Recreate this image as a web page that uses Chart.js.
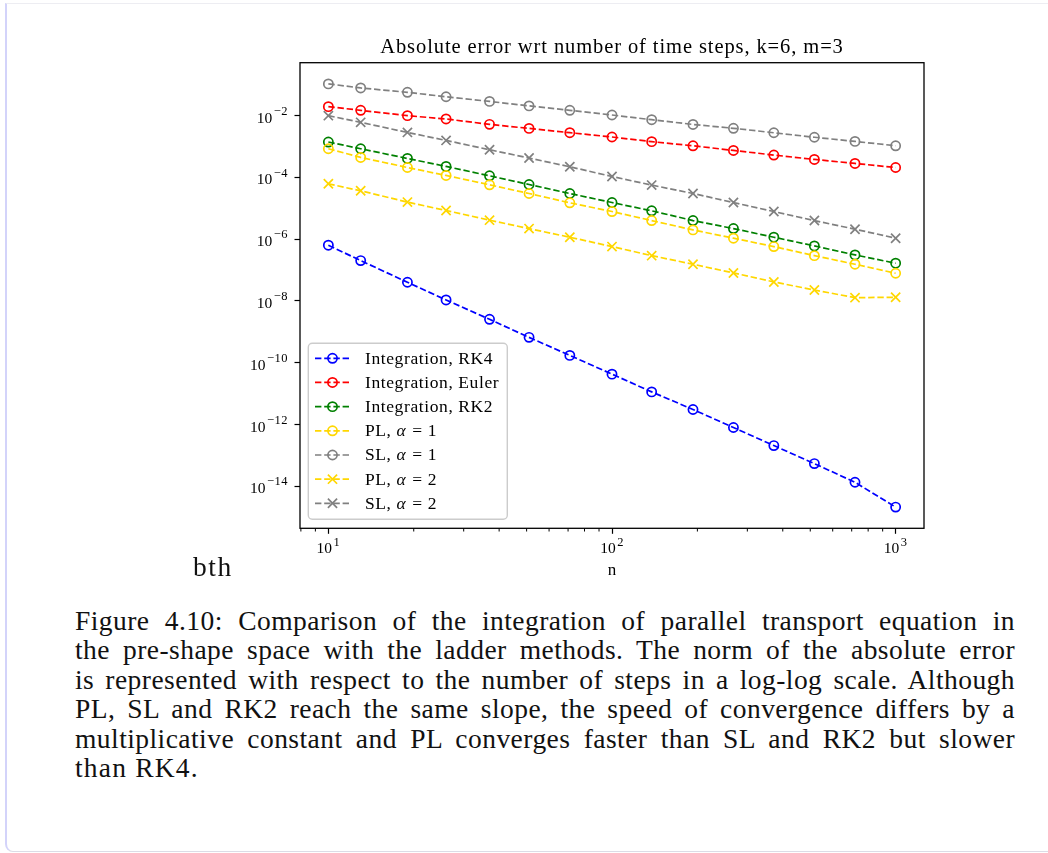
<!DOCTYPE html>
<html>
<head>
<meta charset="utf-8">
<title>Absolute error wrt number of time steps</title>
<script src="https://cdn.jsdelivr.net/npm/chart.js@4.4.1/dist/chart.umd.min.js"></script>
<style>
  html, body { margin: 0; padding: 0; background: #fff; }
  body { width: 1048px; height: 853px; position: relative; overflow: hidden;
         font-family: "Liberation Serif", serif; color: #111; }
  #frame { position: absolute; left: 5px; top: 3px; width: 1100px; height: 847px;
           border-left: 2px solid #d3d3fa; border-top: 1px solid #ededf2;
           border-bottom: 1px solid #dcdce6; border-bottom-left-radius: 8px; }
  #plot { position: absolute; left: 200px; top: 20px; }
  .tex { position: absolute; font-size: 27.5px; line-height: 29.4px; letter-spacing: 0.45px; }
  #bth { left: 193px; top: 552px; letter-spacing: 1.6px; }
  #caption { left: 75px; top: 606px; width: 940px; }
  #caption div { text-align: justify; text-align-last: justify; }
  #caption div.last { text-align-last: left; letter-spacing: 1.2px; }
</style>
</head>
<body>
<div id="frame"></div>
<canvas id="plot" width="760" height="570"></canvas>
<div class="tex" id="bth">bth</div>
<div class="tex" id="caption">
  <div>Figure 4.10: Comparison of the integration of parallel transport equation in</div>
  <div>the pre-shape space with the ladder methods. The norm of the absolute error</div>
  <div>is represented with respect to the number of steps in a log-log scale. Although</div>
  <div>PL, SL and RK2 reach the same slope, the speed of convergence differs by a</div>
  <div>multiplicative constant and PL converges faster than SL and RK2 but slower</div>
  <div class="last">than RK4.</div>
</div>
<script>
// number of time steps
const nSteps = [10, 13, 19, 26, 37, 51, 71, 100, 138, 193, 268, 372, 517, 719, 1000];

// absolute error
const errRK4   = [6.4e-7, 2.03e-7, 4.04e-8, 1.08e-8, 2.55e-9, 6.64e-10, 1.73e-10, 4.28e-11,
                  1.14e-11, 3.07e-12, 8.0e-13, 2.08e-13, 5.43e-14, 1.35e-14, 2.12e-15];
const errEuler = [1.96e-2, 1.49e-2, 1.0e-2, 7.82e-3, 5.23e-3, 3.87e-3, 2.81e-3, 2.04e-3,
                  1.44e-3, 1.06e-3, 7.48e-4, 5.31e-4, 3.83e-4, 2.84e-4, 2.10e-4];
const errRK2   = [1.40e-3, 8.5e-4, 4.12e-4, 2.27e-4, 1.13e-4, 5.9e-5, 3.02e-5, 1.54e-5,
                  8.3e-6, 4.02e-6, 2.21e-6, 1.16e-6, 6.07e-7, 3.10e-7, 1.67e-7];
const errPL1   = [8.5e-4, 4.44e-4, 2.10e-4, 1.16e-4, 5.78e-5, 3.02e-5, 1.51e-5, 7.87e-6,
                  4.02e-6, 2.0e-6, 1.08e-6, 5.77e-7, 2.94e-7, 1.55e-7, 7.9e-8];
const errSL1   = [0.107, 0.079, 0.057, 0.041, 0.029, 0.0207, 0.0149, 0.0105,
                  0.0074, 0.0052, 0.0039, 0.0028, 0.0020, 0.00147, 0.00106];
const errPL2   = [6.22e-5, 3.69e-5, 1.59e-5, 8.48e-6, 4.14e-6, 2.21e-6, 1.16e-6, 5.77e-7,
                  2.94e-7, 1.55e-7, 8.09e-8, 4.13e-8, 2.27e-8, 1.28e-8, 1.32e-8];
const errSL2   = [1.0e-2, 6.07e-3, 2.87e-3, 1.58e-3, 7.89e-4, 4.25e-4, 2.22e-4, 1.07e-4,
                  5.65e-5, 3.02e-5, 1.54e-5, 7.87e-6, 4.02e-6, 2.11e-6, 1.08e-6];

const seriesLabels  = ['Integration, RK4', 'Integration, Euler', 'Integration, RK2',
                       'PL, α = 1', 'SL, α = 1', 'PL, α = 2', 'SL, α = 2'];
const seriesValues  = [errRK4, errEuler, errRK2, errPL1, errSL1, errPL2, errSL2];
const seriesColors  = ['#0000ff', '#ff0000', '#008000', '#ffd700', '#808080', '#ffd700', '#808080'];
const seriesMarkers = ['circle', 'circle', 'circle', 'circle', 'circle', 'crossRot', 'crossRot'];

// tick labels are powers of ten
const xTickExponents = [1, 2, 3];
const xMinorTicks = [8, 9, 20, 30, 40, 50, 60, 70, 80, 90, 200, 300, 400, 500, 600, 700, 800, 900];
const yTickExponents = [-2, -4, -6, -8, -10, -12, -14];

const titleText = 'Absolute error wrt number of time steps, k=6, m=3';
const xTitle = 'n';

const FONT = '"Liberation Serif", serif';
const CIRCLE_R = 4.6, CROSS_R = 6.5, LW = 1.7, DASH = [6.4, 2.8];

// "10" with a superscript exponent, drawn like mathtext
function powLabel(ctx, exp, x, baseline, align) {
  const sup = (exp < 0 ? '\u2212' : '') + Math.abs(exp);
  ctx.textAlign = 'left';
  ctx.textBaseline = 'alphabetic';
  ctx.letterSpacing = '0px';
  ctx.font = '15.5px ' + FONT;
  const wb = ctx.measureText('10').width;
  ctx.font = '12.5px ' + FONT;
  ctx.letterSpacing = '0.5px';
  const ws = ctx.measureText(sup).width;
  const total = wb + 1.5 + ws;
  const left = align === 'right' ? x - total : x - total / 2;
  ctx.letterSpacing = '0px';
  ctx.font = '15.5px ' + FONT;
  ctx.fillText('10', left, baseline);
  ctx.font = '12.5px ' + FONT;
  ctx.letterSpacing = '0.5px';
  ctx.fillText(sup, left + wb + 1.5, baseline - 7.8);
  ctx.letterSpacing = '0px';
}

function marker(ctx, style, color, x, y) {
  ctx.save();
  ctx.strokeStyle = color;
  ctx.lineWidth = LW;
  ctx.setLineDash([]);
  ctx.beginPath();
  if (style === 'circle') {
    ctx.arc(x, y, CIRCLE_R, 0, Math.PI * 2);
  } else {
    const d = CROSS_R * Math.SQRT1_2;
    ctx.moveTo(x - d, y - d); ctx.lineTo(x + d, y + d);
    ctx.moveTo(x - d, y + d); ctx.lineTo(x + d, y - d);
  }
  ctx.stroke();
  ctx.restore();
}

const decor = {
  id: 'decor',
  afterDraw(chart) {
    const { ctx, chartArea: a, scales: { x, y } } = chart;
    ctx.save();
    ctx.fillStyle = '#000';

    // frame
    ctx.strokeStyle = '#000';
    ctx.lineWidth = 1.3;
    ctx.strokeRect(a.left, a.top, a.right - a.left, a.bottom - a.top);

    // minor ticks on x
    ctx.lineWidth = 1;
    ctx.beginPath();
    xMinorTicks.forEach(v => {
      const px = x.getPixelForValue(v);
      ctx.moveTo(px, a.bottom);
      ctx.lineTo(px, a.bottom + 3.2);
    });
    ctx.stroke();

    // tick labels
    xTickExponents.forEach(e => powLabel(ctx, e, x.getPixelForValue(Math.pow(10, e)), a.bottom + 25, 'center'));
    yTickExponents.forEach(e => powLabel(ctx, e, a.left - 12, y.getPixelForValue(Math.pow(10, e)) + 7, 'right'));

    // title and axis label
    ctx.textAlign = 'center';
    ctx.textBaseline = 'alphabetic';
    ctx.font = '20.5px ' + FONT;
    ctx.letterSpacing = '0.9px';
    ctx.fillText(titleText, (a.left + a.right) / 2, a.top - 10.2);
    ctx.font = '17px ' + FONT;
    ctx.letterSpacing = '0px';
    ctx.fillText(xTitle, (a.left + a.right) / 2, a.bottom + 46.7);

    // legend
    const bx = a.left + 8.3, by = a.bottom - 185, bw = 199, bh = 176;
    ctx.beginPath();
    ctx.roundRect(bx, by, bw, bh, 4);
    ctx.fillStyle = 'rgba(255,255,255,0.8)';
    ctx.fill();
    ctx.strokeStyle = '#cccccc';
    ctx.lineWidth = 1.4;
    ctx.stroke();

    chart.data.datasets.forEach((ds, i) => {
      const ry = by + 15 + i * 24.17;
      ctx.strokeStyle = ds.borderColor;
      ctx.lineWidth = LW;
      ctx.setLineDash(DASH);
      ctx.beginPath();
      ctx.moveTo(bx + 6.7, ry);
      ctx.lineTo(bx + 41.7, ry);
      ctx.stroke();
      ctx.setLineDash([]);
      marker(ctx, seriesMarkers[i], ds.borderColor, bx + 24.2, ry);

      ctx.fillStyle = '#000';
      ctx.textAlign = 'left';
      ctx.letterSpacing = '0.6px';
      let tx = bx + 56.7;
      const parts = ds.label.split('α');
      parts.forEach((p, k) => {
        ctx.font = '17.5px ' + FONT;
        ctx.fillText(p, tx, ry + 5.5);
        tx += ctx.measureText(p).width;
        if (k < parts.length - 1) {
          ctx.font = 'italic 17.5px ' + FONT;
          ctx.fillText('α', tx, ry + 5.5);
          tx += ctx.measureText('α').width + 1;
        }
      });
      ctx.letterSpacing = '0px';
    });
    ctx.restore();
  }
};

const datasets = seriesLabels.map((label, i) => ({
  label: label,
  data: nSteps.map((n, j) => ({ x: n, y: seriesValues[i][j] })),
  borderColor: seriesColors[i],
  backgroundColor: 'rgba(0,0,0,0)',
  borderWidth: LW,
  borderDash: DASH,
  pointStyle: seriesMarkers[i],
  pointRadius: seriesMarkers[i] === 'circle' ? CIRCLE_R : CROSS_R,
  pointBorderWidth: LW,
  pointBorderColor: seriesColors[i],
  pointBackgroundColor: 'rgba(0,0,0,0)',
  tension: 0,
  fill: false,
  order: -i
}));

new Chart(document.getElementById('plot'), {
  type: 'line',
  data: { datasets: datasets },
  plugins: [decor],
  options: {
    responsive: false,
    animation: false,
    events: [],
    layout: { padding: { left: 0, right: 36, top: 42.7, bottom: 0 } },
    plugins: { legend: { display: false }, tooltip: { enabled: false }, title: { display: false } },
    scales: {
      x: {
        type: 'logarithmic',
        bounds: 'data',
        min: Math.pow(10, 0.9),
        max: Math.pow(10, 3.1),
        afterBuildTicks: s => { s.ticks = xTickExponents.map(e => ({ value: Math.pow(10, e), major: true })); },
        afterFit: s => { s.height = 61.7; },
        ticks: { display: false },
        grid: { drawOnChartArea: false, drawTicks: true, tickLength: 5.5, tickWidth: 1.2, tickColor: '#000' },
        border: { display: false }
      },
      y: {
        type: 'logarithmic',
        bounds: 'data',
        min: Math.pow(10, -15.36),
        max: Math.pow(10, -0.285),
        afterBuildTicks: s => { s.ticks = yTickExponents.map(e => ({ value: Math.pow(10, e), major: true })); },
        afterFit: s => { s.width = 100; },
        ticks: { display: false },
        grid: { drawOnChartArea: false, drawTicks: true, tickLength: 5.5, tickWidth: 1.2, tickColor: '#000' },
        border: { display: false }
      }
    }
  }
});
</script>
</body>
</html>
